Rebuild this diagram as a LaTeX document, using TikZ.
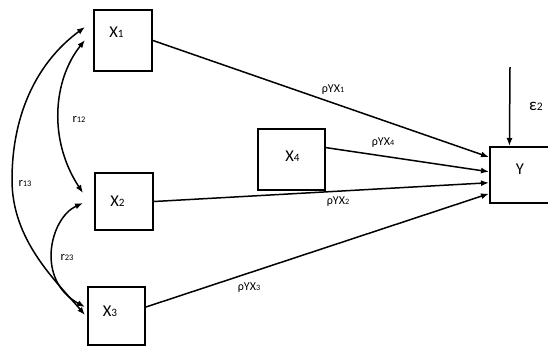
\documentclass[tikz,border=0pt]{standalone}
\usepackage{fontspec}
\usepackage{graphicx}
\setmainfont{Carlito}
\usetikzlibrary{arrows.meta}
\newcommand\smd[1]{\scalebox{0.68}{#1}}
\begin{document}
\begin{tikzpicture}[x=1pt,y=1pt,
  box/.style={draw, line width=2pt, inner sep=0pt},
  boxtext/.style={font=\fontsize{16.5}{16.5}\selectfont, inner sep=0pt},
  conn/.style={line width=1.5pt, -{Latex[length=8pt,width=6pt]}},
  corr/.style={line width=1.5pt, {Latex[length=8pt,width=6pt]}-{Latex[length=8pt,width=6pt]}},
  lab/.style={font=\fontsize{12}{12}\selectfont, inner sep=0pt},
  rlab/.style={font=\fontsize{12.5}{12.5}\selectfont, inner sep=0pt}]
\useasboundingbox (0,0) rectangle (548,-349);
\clip (0,0) rectangle (548,-349);
% boxes
\node[box, minimum width=58pt, minimum height=61pt,
  label={[boxtext, xshift=-6.5pt, yshift=8.5pt]center:X\smd{1}}] (X1) at (123,-40.5) {};
\node[box, minimum width=58pt, minimum height=57pt,
  label={[boxtext, xshift=-6.5pt, yshift=0.5pt]center:X\smd{2}}] (X2) at (124,-201.5) {};
\node[box, minimum width=57pt, minimum height=58pt,
  label={[boxtext, xshift=-6.5pt, yshift=4.5pt]center:X\smd{3}}] (X3) at (116.5,-316) {};
\node[box, minimum width=67pt, minimum height=61pt,
  label={[boxtext, xshift=1pt, yshift=3.5pt]center:X\smd{4}}] (X4) at (291.5,-159.5) {};
\node[box, minimum width=60pt, minimum height=56pt,
  label={[boxtext, yshift=5.5pt]center:Y}] (Y) at (520,-175) {};
% error term
\coordinate (e) at (510,-67);
\draw[conn] (e) -- (Y.110);
\node[font=\fontsize{17}{17}\selectfont, anchor=west, inner sep=0pt] (eps) at (529,-106) {ε\smd{2}};
% paths to Y
\draw[conn] (X1.east) -- (Y.150.5);
\draw[conn] (X4.19) -- (Y.174.3);
\draw[conn] (X2.east) -- (Y.194.9);
\draw[conn] (X3.17) -- (Y.211);
% path labels
\node[lab] (l1) at (333,-90) {ρYX\smd{1}};
\node[lab] (l4) at (383,-143) {ρYX\smd{4}};
\node[lab] (l2) at (338,-202) {ρYX\smd{2}};
\node[lab] (l3) at (249,-288) {ρYX\smd{3}};
% correlations
\coordinate (c13a) at (85,-27);
\coordinate (c13b) at (85,-315);
\coordinate (c12a) at (85,-40);
\coordinate (c12b) at (83,-193);
\coordinate (c23a) at (83,-203);
\coordinate (c23b) at (85,-307);
\draw[corr] (c13a) .. controls (40,-60) and (12,-110) .. (12,-180)
  .. controls (12,-240) and (55,-280) .. (c13b);
\draw[corr] (c12a) .. controls (53,-80) and (48,-140) .. (c12b);
\draw[corr] (c23a) .. controls (50,-218) and (35,-280) .. (c23b);
\node[rlab] (r12) at (79,-119) {r\smd{12}};
\node[rlab] (r13) at (25,-183) {r\smd{13}};
\node[rlab] (r23) at (67,-257) {r\smd{23}};
\end{tikzpicture}
\end{document}
